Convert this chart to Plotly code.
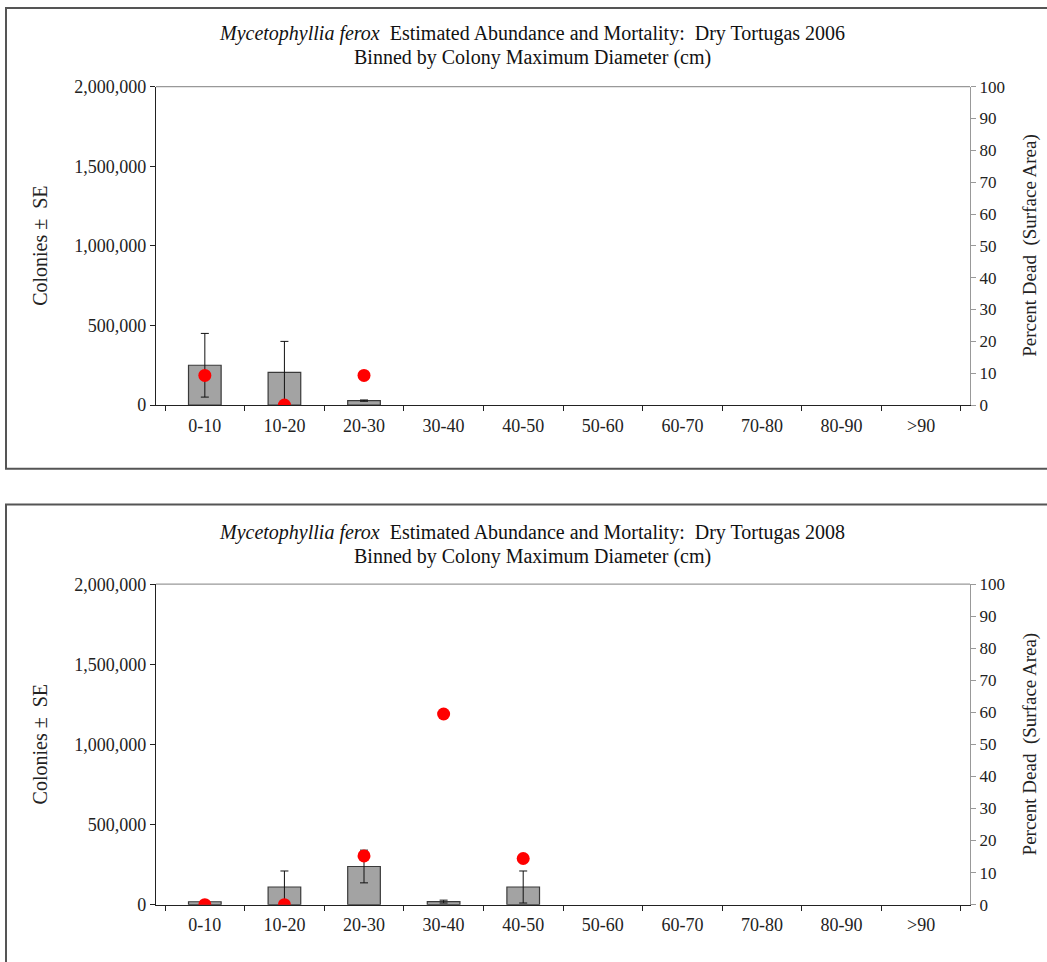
import plotly.graph_objects as go

# Size bins (colony maximum diameter, cm)
bins = ["0-10", "10-20", "20-30", "30-40", "40-50", "50-60", "60-70", "70-80", "80-90", ">90"]

# Dry Tortugas 2006
colonies_2006 = [250000, 205000, 28000, None, None, None, None, None, None, None]
se_2006 = [200000, 195000, 4000, None, None, None, None, None, None, None]
dead_2006 = [9.3, 0, 9.3, None, None, None, None, None, None, None]

# Dry Tortugas 2008
colonies_2008 = [18000, 110000, 238000, 19000, 110000, None, None, None, None, None]
se_2008 = [4000, 100000, 102000, 9000, 100000, None, None, None, None, None]
dead_2008 = [0, 0, 15.2, 59.5, 14.4, None, None, None, None, None]

years = ["2006", "2008"]

W, H = 1047, 962
FONT = "Liberation Serif"
INK = "#222222"

# pixel layout of each panel: (plot top, plot bottom, frame top, frame bottom, title top)
panels = [(84, 404, 5, 468, 1), (584, 906, 504, 990, 502)]
x_left, x_right = 156, 970


def px_x(v):
    return v / W


def px_y(v):
    # page offset / scale of the rendered figure
    return 1 - (v - 7) / 946.6


datasets = [(colonies_2006, se_2006, dead_2006), (colonies_2008, se_2008, dead_2008)]

fig = go.Figure()

for i, ((cols, se, dead), year, (top, bot, ftop, fbot, ttop)) in enumerate(zip(datasets, years, panels)):
    xa = "x" if i == 0 else "x2"
    ya = "y" if i == 0 else "y3"
    ya2 = "y2" if i == 0 else "y4"

    fig.add_trace(go.Bar(
        x=bins, y=cols, xaxis=xa, yaxis=ya, width=0.41,
        marker=dict(color="#a3a3a3", line=dict(color="#3a3a3a", width=1.2)),
        error_y=dict(type="data", array=se, visible=True, color="#111111", thickness=1, width=4),
        showlegend=False,
    ))
    fig.add_trace(go.Scatter(
        x=bins, y=dead, xaxis=xa, yaxis=ya2, mode="markers",
        marker=dict(color="#ff0000", size=13),
        showlegend=False, cliponaxis=True,
    ))

    dom_y = [px_y(bot), px_y(top)]
    sfx = "" if i == 0 else "2"
    ysfx_l = "" if i == 0 else "3"
    ysfx_r = "2" if i == 0 else "4"

    fig.update_layout(**{
        f"xaxis{sfx}": dict(
            domain=[px_x(x_left), px_x(x_right)], anchor=ya, type="category",
            categoryorder="array", categoryarray=bins,
            showline=True, linecolor=INK, linewidth=1.2,
            ticks="outside", tickson="boundaries", ticklen=5, tickcolor=INK,
            tickfont=dict(family=FONT, size=18, color=INK), ticklabelstandoff=4,
            showgrid=False, zeroline=False, fixedrange=True,
        ),
        f"yaxis{ysfx_l}": dict(
            domain=dom_y, anchor=xa, range=[0, 2000000], dtick=500000,
            tickformat=",", showline=True, linecolor=INK, linewidth=1.2,
            ticks="outside", ticklen=5, tickcolor=INK,
            tickfont=dict(family=FONT, size=18, color=INK),
            showgrid=False, zeroline=False,
        ),
        f"yaxis{ysfx_r}": dict(
            domain=dom_y, anchor=xa, overlaying=ya, side="right", range=[0, 100], dtick=10,
            showline=True, linecolor="#999999", linewidth=1.2,
            ticks="outside", ticklen=5, tickcolor="#999999",
            tickfont=dict(family=FONT, size=17, color=INK),
            showgrid=False, zeroline=False,
        ),
    })

    mid = (top + bot) / 2

    # axis titles
    fig.add_annotation(
        xref="paper", yref="paper", x=px_x(40), y=px_y(mid),
        text="Colonies ±  SE", textangle=-90, showarrow=False,
        font=dict(family=FONT, size=20, color=INK), xanchor="center", yanchor="middle",
    )
    fig.add_annotation(
        xref="paper", yref="paper", x=px_x(1030), y=px_y(mid),
        text="Percent Dead  (Surface Area)", textangle=-90, showarrow=False,
        font=dict(family=FONT, size=19, color=INK), xanchor="center", yanchor="middle",
    )

    # gray line closing the top of the plot area
    fig.add_shape(type="line", xref="paper", yref="paper",
                  x0=px_x(x_left), x1=px_x(x_right), y0=px_y(top), y1=px_y(top),
                  line=dict(color="#999999", width=1.2))
    # panel frame
    fig.add_shape(type="rect", xref="paper", yref="paper",
                  x0=px_x(6), x1=px_x(1060), y0=px_y(fbot), y1=px_y(ftop),
                  line=dict(color="#555555", width=2))

    fig.add_annotation(
        xref="paper", yref="paper", x=px_x(532), y=px_y(ttop + 30),
        text=f"<i>Mycetophyllia ferox</i>  Estimated Abundance and Mortality:  Dry Tortugas {year}",
        showarrow=False, font=dict(family=FONT, size=20, color="#111111"),
        xanchor="center", yanchor="middle",
    )
    fig.add_annotation(
        xref="paper", yref="paper", x=px_x(532), y=px_y(ttop + 54),
        text="Binned by Colony Maximum Diameter (cm)",
        showarrow=False, font=dict(family=FONT, size=20, color="#111111"),
        xanchor="center", yanchor="middle",
    )

fig.update_layout(
    width=W, height=H, margin=dict(l=0, r=0, t=0, b=0),
    paper_bgcolor="white", plot_bgcolor="white", bargap=0.59,
)

fig.write_html("out.html")
